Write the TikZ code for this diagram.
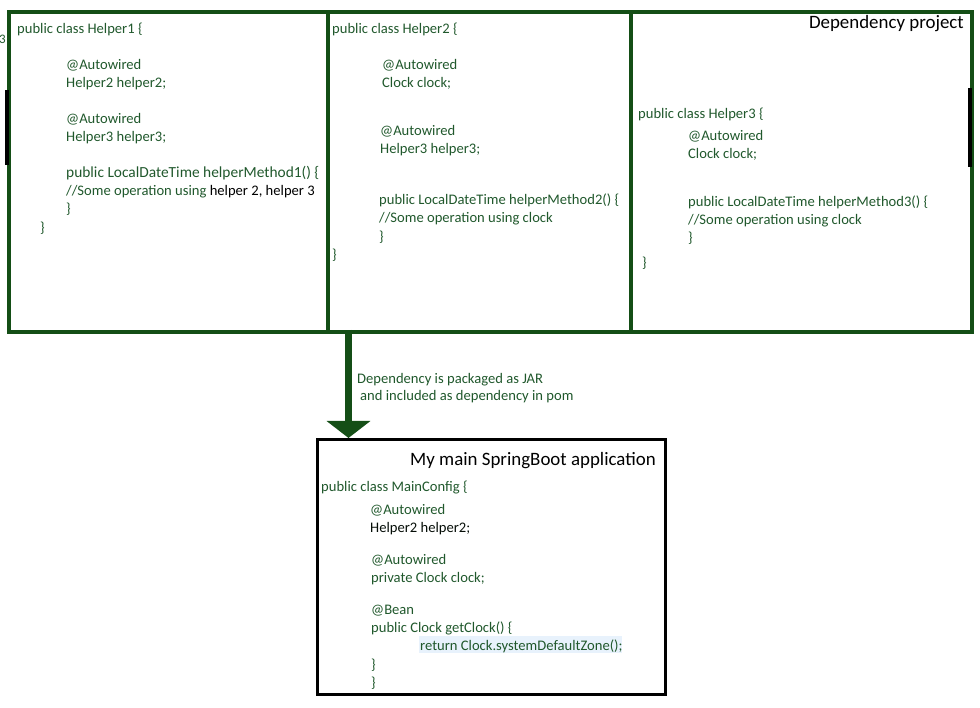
\documentclass[tikz,border=0pt]{standalone}
\usepackage{fontspec}
\setmainfont{Carlito}
\usetikzlibrary{arrows.meta, positioning}
\definecolor{framegreen}{RGB}{20,78,22}
\definecolor{codegreen}{RGB}{32,88,44}
\definecolor{hilite}{RGB}{232,242,252}
\tikzstyle{classbox} = [rectangle, draw=framegreen, line width=4pt, inner sep=0pt, anchor=north west]
\tikzstyle{appbox} = [rectangle, draw=black, line width=3pt, inner sep=0pt, anchor=north west]
\tikzstyle{code} = [anchor=base west, inner sep=0pt, yshift=-2pt, text=codegreen, font=\fontsize{14.6}{17}\selectfont]
\tikzstyle{heading} = [anchor=base east, inner sep=0pt, yshift=-1.5pt, text=black, font=\fontsize{18.9}{22}\selectfont]
\tikzstyle{arrow} = [draw=framegreen, line width=7pt, -{Triangle[width=43pt,length=17pt]}]

\begin{document}
\begin{tikzpicture}[x=1pt, y=-1pt]
    \useasboundingbox (0,0) rectangle (980,708);
    % Dependency project boxes
    \node (helperone) [classbox, minimum width=319pt, minimum height=320pt] at (7,10) {};
    \node (helpertwo) [classbox, minimum width=303pt, minimum height=320pt] at (326,10) {};
    \node (helperthree) [classbox, minimum width=341pt, minimum height=320pt] at (629,10) {};
    \draw [black, line width=4pt] (7,90) -- (7,165);
    \draw [black, line width=4pt] (970,88) -- (970,167);
    \node (stray) [code, font=\fontsize{13}{14}\selectfont] at (-1,42) {3};
    \node (depname) [heading] at (964,27) {Dependency project};

    % Helper1
    \node (h1a) [code] at (17,32) {public class Helper1 \{};
    \node (h1b) [code] at (66,68) {@Autowired};
    \node (h1c) [code] at (66,86) {Helper2 helper2;};
    \node (h1d) [code] at (66,122) {@Autowired};
    \node (h1e) [code] at (66,140) {Helper3 helper3;};
    \node (h1f) [code, font=\fontsize{15.4}{18}\selectfont] at (66,176) {public LocalDateTime helperMethod1() \{};
    \node (h1g) [code] at (66,194) {//Some operation using \textcolor{black}{helper 2, helper 3}};
    \node (h1h) [code] at (66,212) {\}};
    \node (h1i) [code] at (40,231) {\}};

    % Helper2
    \node (h2a) [code] at (332,32) {public class Helper2 \{};
    \node (h2b) [code] at (382,68) {@Autowired};
    \node (h2c) [code] at (382,86) {Clock clock;};
    \node (h2d) [code] at (380,134) {@Autowired};
    \node (h2e) [code] at (380,152) {Helper3 helper3;};
    \node (h2f) [code] at (379,203) {public LocalDateTime helperMethod2() \{};
    \node (h2g) [code] at (379,221) {//Some operation using clock};
    \node (h2h) [code] at (379,240) {\}};
    \node (h2i) [code] at (332,258) {\}};

    % Helper3
    \node (h3a) [code] at (638,117) {public class Helper3 \{};
    \node (h3b) [code] at (688,139) {@Autowired};
    \node (h3c) [code] at (688,157) {Clock clock;};
    \node (h3d) [code] at (688,205) {public LocalDateTime helperMethod3() \{};
    \node (h3e) [code] at (688,223) {//Some operation using clock};
    \node (h3f) [code] at (688,241) {\}};
    \node (h3g) [code] at (642,266) {\}};

    % Main application
    \node (app) [appbox, minimum width=348pt, minimum height=255pt] at (316,438) {};
    \node (appname) [heading] at (656,464) {My main SpringBoot application};
    \node (m1) [code] at (321,489) {public class MainConfig \{};
    \node (m2) [code] at (370,512) {@Autowired};
    \node (m3) [code, text=black!85!codegreen] at (370,530) {Helper2 helper2;};
    \node (m4) [code] at (371,562) {@Autowired};
    \node (m5) [code] at (371,580) {private Clock clock;};
    \node (m6) [code] at (371,612) {@Bean};
    \node (m7) [code] at (371,630) {public Clock getClock() \{};
    \fill [hilite] (419,636) rectangle (622,653);
    \node (m8) [code] at (420,648) {return Clock.systemDefaultZone();};
    \node (m9) [code] at (371,667) {\}};
    \node (m10) [code] at (371,685) {\}};

    % Arrow
    \coordinate (jarsrc) at (348.5,330);
    \draw [arrow] (jarsrc) -- (jarsrc |- app.north);
    \node (jarnote) [code] at (357,382) {Dependency is packaged as JAR};
    \node (jarnote2) [code] at (360,399) {and included as dependency in pom};
\end{tikzpicture}
\end{document}
